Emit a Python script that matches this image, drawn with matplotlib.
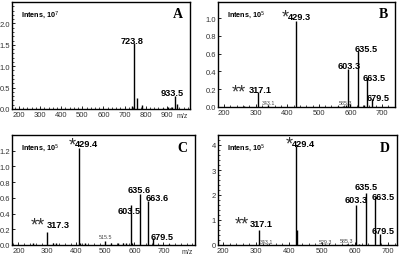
import matplotlib
matplotlib.use("Agg")
import matplotlib.pyplot as plt
from matplotlib.ticker import MultipleLocator

plt.rcParams['font.family'] = ['Liberation Sans', 'DejaVu Sans']

# ---------------- data ----------------
# Panel A
a_mz = [746, 734, 761, 781, 939, 950, 924, 883, 905, 915]
a_int = [1.54, 0.08, 0.25, 0.10, 0.31, 0.12, 0.05, 0.03, 0.04, 0.03]
a_lab = ["723.8", "933.5"]
a_lab_mz = [746, 939]
a_lab_y = [1.52, 0.30]

# Panel B
b_mz = [428, 308, 592, 624, 652, 668, 340, 262, 560, 575, 585, 598, 642]
b_int = [0.97, 0.17, 0.43, 0.63, 0.33, 0.09, 0.02, 0.01, 0.01, 0.015, 0.02, 0.03, 0.02]
b_lab = ["429.3", "317.1", "603.3", "635.5", "663.5", "679.5"]
b_lab_mz = [428, 308, 592, 624, 652, 668]
b_lab_y = [0.985, 0.16, 0.43, 0.625, 0.30, 0.075]
b_small_lab = ["343.1", "585.3"]
b_small_mz = [340, 585]
b_small_y = [0.02, 0.02]

# Panel C
c_mz = [409, 300, 588, 620, 648, 665, 499, 252, 320, 330, 412, 430, 520, 545, 560, 570, 592, 720]
c_int = [1.24, 0.17, 0.51, 0.65, 0.56, 0.09, 0.05, 0.02, 0.03, 0.02, 0.02, 0.02, 0.02, 0.02, 0.03, 0.02, 0.03, 0.01]
c_lab = ["429.4", "317.3", "603.5", "635.6", "663.6", "679.5"]
c_lab_mz = [409, 300, 588, 620, 648, 665]
c_lab_y = [1.25, 0.22, 0.40, 0.67, 0.56, 0.07]
c_small_lab = ["515.5"]
c_small_mz = [499]
c_small_y = [0.07]

# Panel D
d_mz = [421, 425, 309, 602, 632, 660, 676, 333, 510, 575, 590, 612]
d_int = [3.96, 0.60, 0.60, 1.60, 2.07, 1.93, 0.45, 0.03, 0.03, 0.04, 0.05, 0.05]
d_lab = ["429.4", "317.1", "603.3", "635.5", "663.5", "679.5"]
d_lab_mz = [421, 309, 602, 632, 660, 676]
d_lab_y = [3.93, 0.73, 1.70, 2.23, 1.83, 0.45]
d_small_lab = ["343.1", "529.3", "585.3"]
d_small_mz = [333, 510, 575]
d_small_y = [0.04, 0.04, 0.06]

star_marks = ["*", "**"]
panel_letters = ["A", "B", "C", "D"]
exponents = ["7", "5", "5", "5"]

# ---------------- style ----------------
fig = plt.figure(figsize=(4.0, 2.55), dpi=100)
W, H = 400.0, 255.0

def box(l, r, t, b):
    return [l / W, 1 - b / H, (r - l) / W, (b - t) / H]

panels = [
    dict(rect=box(12, 190, 3, 110), xlim=(167, 1010), ylim=(0, 2.5),
         yticks=[0.0, 0.5, 1.0, 1.5, 2.0], yfmt="{:.1f}", yminor=0.1,
         xticks=[200, 300, 400, 500, 600, 700, 800, 900],
         mz=a_mz, inten=a_int, lab=a_lab, lab_mz=a_lab_mz, lab_y=a_lab_y,
         lab_dx=[-2, -3], star=None, small=None, mz_label=True),
    dict(rect=box(218, 395, 3, 108), xlim=(181, 741), ylim=(0, 1.18),
         yticks=[0.0, 0.2, 0.4, 0.6, 0.8, 1.0], yfmt="{:.1f}", yminor=None,
         xticks=[200, 300, 400, 500, 600, 700],
         mz=b_mz, inten=b_int, lab=b_lab, lab_mz=b_lab_mz, lab_y=b_lab_y,
         lab_dx=[3, 2, 1.5, 8.5, 7.5, 6],
         star=[(-11, 8), (-19, 7)],
         small=(b_small_lab, b_small_mz, b_small_y), mz_label=False),
    dict(rect=box(12, 195, 136, 246), xlim=(178, 809), ylim=(0, 1.40),
         yticks=[0.0, 0.2, 0.4, 0.6, 0.8, 1.0, 1.2], yfmt="{:.1f}", yminor=None,
         xticks=[200, 300, 400, 500, 600, 700],
         mz=c_mz, inten=c_int, lab=c_lab, lab_mz=c_lab_mz, lab_y=c_lab_y,
         lab_dx=[7, 11, -1.5, -1, 9, 9],
         star=[(-7, 8), (-10, 9)],
         small=(c_small_lab, c_small_mz, c_small_y), mz_label=True),
    dict(rect=box(218, 397, 136, 246), xlim=(185, 727), ylim=(0, 4.4),
         yticks=[0, 1, 2, 3, 4], yfmt="{:d}", yminor=0.2,
         xticks=[200, 300, 400, 500, 600, 700],
         mz=d_mz, inten=d_int, lab=d_lab, lab_mz=d_lab_mz, lab_y=d_lab_y,
         lab_dx=[7, 2, 0, 1, 8, 3],
         star=[(-7, 9), (-17, 9)],
         small=(d_small_lab, d_small_mz, d_small_y), mz_label=False),
]

label_font = dict(fontsize=6.6, fontweight="bold", color="black")
px2pt = 0.72
star_size = 13
star_center_em = 0.58  # ink centre of an asterisk above its baseline, in em

for i, p in enumerate(panels):
    ax = fig.add_axes(p["rect"])
    ax.set_xlim(*p["xlim"])
    ax.set_ylim(*p["ylim"])
    ax.vlines(p["mz"], 0, p["inten"], color="black", lw=1.0)
    ax.set_xticks(p["xticks"])
    ax.set_xticklabels([str(t) for t in p["xticks"]])
    ax.set_yticks(p["yticks"])
    ax.set_yticklabels([p["yfmt"].format(t) for t in p["yticks"]])
    if p["yminor"]:
        ax.yaxis.set_minor_locator(MultipleLocator(p["yminor"]))
    ax.xaxis.set_minor_locator(MultipleLocator(20))
    ax.tick_params(axis="both", which="major", direction="in", length=2.5,
                   width=0.6, labelsize=5.5, pad=1.5, labelcolor="#333333")
    ax.tick_params(axis="both", which="minor", direction="in", length=1.2, width=0.5)
    for s in ax.spines.values():
        s.set_linewidth(1.0)
    # peak labels
    for k, (t, x, y) in enumerate(zip(p["lab"], p["lab_mz"], p["lab_y"])):
        ax.annotate(t, xy=(x, y), xytext=(p["lab_dx"][k] * px2pt, 0.5),
                    textcoords="offset points", ha="center", va="baseline",
                    **label_font)
    if p["star"] is not None:
        for k, (dx, up_px) in enumerate(p["star"]):
            x = p["lab_mz"][k]
            y = p["lab_y"][k]
            dy_pt = up_px * px2pt - star_center_em * star_size
            ax.annotate(star_marks[k], xy=(x, y), xytext=(dx * px2pt, dy_pt),
                        textcoords="offset points", ha="center", va="baseline",
                        fontsize=star_size, color="#333333")
    if p["small"] is not None:
        for t, x, y in zip(*p["small"]):
            ax.text(x, y, t, fontsize=3.8, ha="center", va="bottom", color="#444444")
    # header text
    ax.text(0.05, 0.94, "Intens, 10$^{" + exponents[i] + "}$", transform=ax.transAxes,
            fontsize=5.2, fontweight="bold", ha="left", va="top")
    ax.text(0.96, 0.95, panel_letters[i], transform=ax.transAxes,
            fontsize=10, fontweight="bold", family="Liberation Serif",
            ha="right", va="top")
    if p["mz_label"]:
        ax.text(0.99, -0.025, "m/z", transform=ax.transAxes,
                fontsize=5, ha="right", va="top", color="#333333")

fig.savefig("out.png", dpi=100)
